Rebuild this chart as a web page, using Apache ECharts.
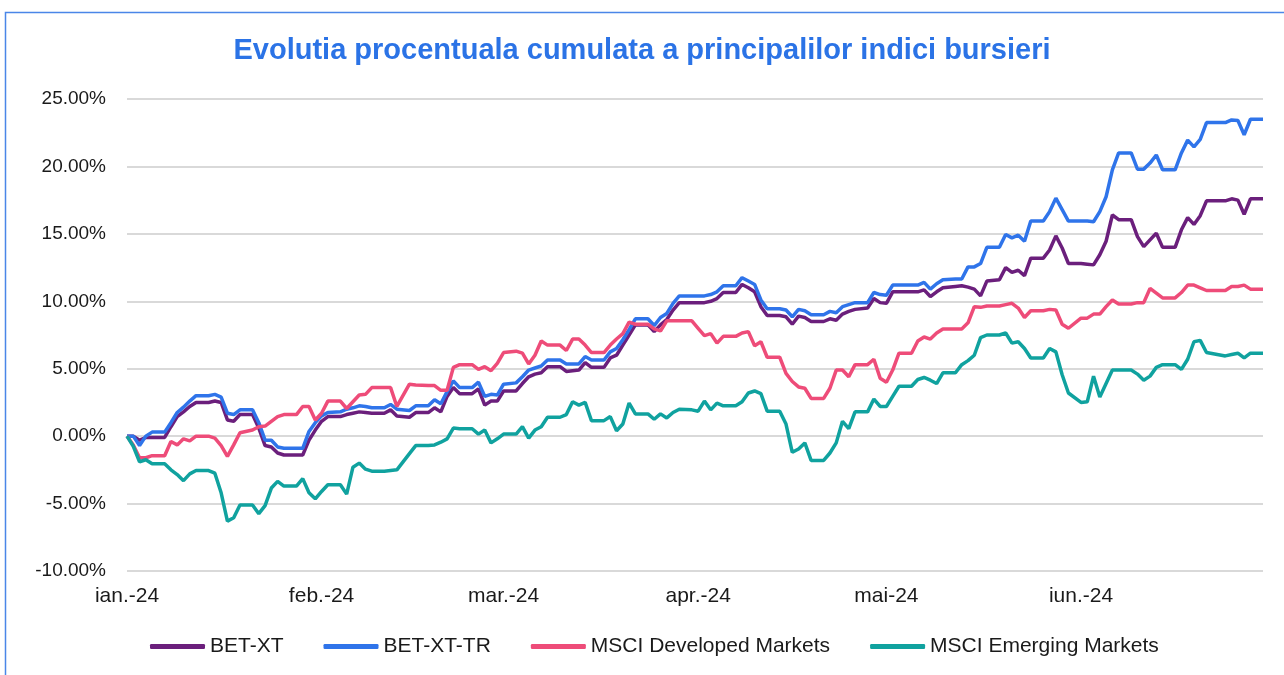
<!DOCTYPE html>
<html>
<head>
<meta charset="utf-8">
<title>Evolutia procentuala cumulata</title>
<script src="https://cdn.jsdelivr.net/npm/echarts@6.0.0/dist/echarts.min.js"></script>
<style>
  html, body { margin: 0; padding: 0; background: #fff; }
  #chart { width: 1284px; height: 675px; }
</style>
</head>
<body>
<div id="chart"></div>
<script>
// day offset from 1 ian. 2024 for each reading
const dayIdx = [
  0, 1, 2, 3, 4, 6, 7, 8, 9, 10, 11, 13, 14, 15, 16, 17, 18, 20, 21, 22, 23, 24, 25, 27, 28, 29, 30, 31,
  32, 34, 35, 36, 37, 38, 39, 41, 42, 43, 45, 46, 48, 49, 50, 51, 52, 53, 55, 56, 57, 58, 59, 60,
  62, 63, 64, 65, 66, 67, 69, 70, 71, 72, 73, 74, 76, 77, 78, 79, 80, 81, 83, 84, 85, 86, 87, 88, 90,
  91, 92, 93, 94, 95, 97, 98, 99, 100, 101, 102, 104, 105, 106, 107, 108, 109, 111, 112, 113, 114, 115, 116, 118, 119, 120, 121,
  122, 123, 125, 126, 127, 128, 129, 130, 132, 133, 134, 135, 136, 137, 139, 140, 141, 142, 143, 144, 146, 147, 148, 149, 150, 152,
  153, 154, 155, 156, 157, 158, 160, 161, 162, 163, 164, 165, 167, 168, 169, 170, 171, 172, 175, 176, 177, 178, 179, 181
];

const betXT = [
  0, 0, -0.3, -0.1, -0.1, -0.1, 0.7, 1.45, 1.8, 2.2, 2.5, 2.5, 2.6, 2.5, 1.2, 1.1, 1.6, 1.6, 0.6, -0.7, -0.8, -1.25, -1.4, -1.4, -1.4, -0.3, 0.45, 1.1,
  1.45, 1.45, 1.6, 1.7, 1.8, 1.75, 1.7, 1.7, 1.95, 1.5, 1.4, 1.75, 1.75, 2.1, 1.8, 2.95, 3.6, 3.15, 3.15, 3.5, 2.3, 2.6, 2.6, 3.35,
  3.35, 3.9, 4.4, 4.6, 4.7, 5.15, 5.15, 4.8, 4.85, 4.9, 5.45, 5.1, 5.1, 5.8, 6.0, 6.75, 7.5, 8.25, 8.25, 7.75, 8.25, 8.65, 9.35, 9.9, 9.9,
  9.9, 9.9, 10.0, 10.2, 10.65, 10.65, 11.25, 11.0, 10.7, 9.6, 8.95, 8.95, 8.85, 8.3, 8.9, 8.8, 8.5, 8.5, 8.7, 8.6, 9.05, 9.25, 9.4, 9.5, 10.2, 9.9, 9.85,
  10.7, 10.7, 10.7, 10.7, 10.85, 10.35, 10.7, 11.0, 11.1, 11.15, 11.05, 10.9, 10.4, 11.5, 11.6, 12.5, 12.15, 12.3, 11.9, 13.2, 13.2, 13.8, 14.85, 13.95, 12.8, 12.8,
  12.75, 12.7, 13.45, 14.45, 16.4, 16.05, 16.05, 14.8, 14.05, 14.55, 15.05, 14.0, 14.0, 15.3, 16.2, 15.7, 16.35, 17.45, 17.45, 17.6, 17.5, 16.45, 17.6, 17.6
];

const betXTTR = [
  0, 0, -0.7, 0, 0.3, 0.3, 1.0, 1.75, 2.15, 2.6, 3.0, 3.0, 3.1, 2.9, 1.7, 1.6, 1.95, 1.95, 1.0, -0.3, -0.3, -0.8, -0.9, -0.9, -0.9, 0.35, 1.0, 1.5,
  1.75, 1.8, 2.0, 2.1, 2.25, 2.2, 2.1, 2.1, 2.35, 2.0, 1.9, 2.25, 2.25, 2.7, 2.4, 3.3, 4.1, 3.6, 3.6, 4.0, 2.95, 3.1, 3.05, 3.85,
  3.95, 4.4, 4.9, 5.05, 5.2, 5.65, 5.65, 5.35, 5.35, 5.35, 5.9, 5.65, 5.65, 6.25, 6.5, 7.15, 7.9, 8.7, 8.7, 8.2, 8.8, 9.1, 9.85, 10.4, 10.4,
  10.4, 10.4, 10.5, 10.7, 11.15, 11.15, 11.75, 11.5, 11.25, 10.1, 9.45, 9.45, 9.35, 8.85, 9.4, 9.3, 9.0, 9.0, 9.25, 9.15, 9.6, 9.75, 9.9, 9.9, 10.65, 10.5, 10.45,
  11.2, 11.2, 11.2, 11.2, 11.4, 10.9, 11.3, 11.6, 11.65, 11.65, 12.55, 12.55, 12.8, 14.0, 14.0, 14.95, 14.7, 14.9, 14.45, 15.95, 15.95, 16.65, 17.65, 16.8, 15.95, 15.95,
  15.95, 15.9, 16.65, 17.75, 19.75, 21.0, 21.0, 19.8, 19.8, 20.25, 20.85, 19.75, 19.75, 21.0, 21.95, 21.45, 22.0, 23.25, 23.25, 23.45, 23.4, 22.35, 23.5, 23.5
];

const msciDev = [
  0, -0.65, -1.6, -1.6, -1.45, -1.45, -0.4, -0.65, -0.2, -0.35, 0, 0, -0.15, -0.7, -1.5, -0.65, 0.25, 0.45, 0.7, 0.75, 1.1, 1.45, 1.6, 1.6, 2.2, 2.2, 1.2, 1.7,
  2.6, 2.6, 2.05, 2.55, 3.05, 3.1, 3.6, 3.6, 3.6, 2.2, 3.85, 3.8, 3.75, 3.75, 3.4, 3.4, 5.1, 5.3, 5.3, 4.95, 5.15, 4.85, 5.4, 6.2,
  6.3, 6.15, 5.35, 6.0, 7.05, 6.75, 6.75, 6.35, 7.2, 7.2, 6.75, 6.2, 6.2, 6.75, 7.2, 7.6, 8.45, 8.3, 8.3, 7.95, 7.8, 8.55, 8.55, 8.55, 8.55,
  8.0, 7.45, 7.6, 6.9, 7.4, 7.4, 7.65, 7.75, 6.7, 7.0, 5.85, 5.85, 4.65, 4.05, 3.65, 3.55, 2.8, 2.8, 3.55, 4.9, 4.9, 4.4, 5.3, 5.3, 5.7, 4.3, 4.0,
  4.9, 6.15, 6.15, 7.05, 7.35, 7.2, 7.65, 7.95, 7.95, 7.95, 8.4, 9.6, 9.55, 9.65, 9.65, 9.75, 9.85, 9.5, 8.8, 9.3, 9.3, 9.4, 9.35, 8.3, 8.0, 8.75,
  8.75, 9.05, 9.05, 9.6, 10.1, 9.8, 9.8, 9.9, 9.9, 10.95, 10.6, 10.25, 10.25, 10.65, 11.2, 11.2, 11.0, 10.8, 10.8, 11.1, 11.1, 11.2, 10.9, 10.9
];

const msciEm = [
  0, -0.75, -1.9, -1.75, -2.05, -2.05, -2.5, -2.85, -3.3, -2.8, -2.55, -2.55, -2.75, -4.2, -6.3, -6.05, -5.1, -5.1, -5.75, -5.15, -3.85, -3.35, -3.7, -3.7, -3.15, -4.2, -4.65, -4.1,
  -3.6, -3.6, -4.3, -2.3, -2.0, -2.45, -2.6, -2.6, -2.55, -2.5, -1.3, -0.7, -0.7, -0.65, -0.45, -0.2, 0.6, 0.55, 0.55, 0.15, 0.45, -0.5, -0.2, 0.15,
  0.15, 0.7, -0.15, 0.45, 0.7, 1.4, 1.4, 1.6, 2.55, 2.3, 2.5, 1.15, 1.15, 1.45, 0.4, 0.9, 2.45, 1.65, 1.65, 1.25, 1.65, 1.35, 1.75, 2.0, 1.95,
  1.85, 2.6, 1.95, 2.45, 2.25, 2.25, 2.55, 3.2, 3.35, 3.15, 1.85, 1.85, 0.9, -1.2, -0.95, -0.5, -1.8, -1.8, -1.25, -0.5, 1.1, 0.55, 1.8, 1.8, 2.75, 2.2, 2.2,
  2.95, 3.7, 3.7, 4.2, 4.35, 4.15, 3.9, 4.7, 4.7, 5.3, 5.6, 6.0, 7.3, 7.5, 7.5, 7.65, 6.9, 7.0, 6.5, 5.8, 5.8, 6.5, 6.25, 4.55, 3.2, 2.5,
  2.55, 4.45, 2.9, 3.9, 4.9, 4.9, 4.9, 4.6, 4.15, 4.45, 5.1, 5.3, 5.3, 4.95, 5.7, 7.0, 7.1, 6.2, 5.95, 6.05, 6.15, 5.8, 6.15, 6.15
];

const seriesNames = ['BET-XT', 'BET-XT-TR', 'MSCI Developed Markets', 'MSCI Emerging Markets'];
const monthLabels = ['ian.-24', 'feb.-24', 'mar.-24', 'apr.-24', 'mai-24', 'iun.-24'];
const yTicks = [-10, -5, 0, 5, 10, 15, 20, 25];
const colors = ['#6B1F7C', '#2F74EA', '#EE4C79', '#10A29F'];

// every calendar day, 1 ian. -> 30 iun. 2024
const days = [];
for (let d = new Date(Date.UTC(2024, 0, 1)); d <= new Date(Date.UTC(2024, 5, 30)); d.setUTCDate(d.getUTCDate() + 1)) {
  days.push(d.toISOString().slice(0, 10));
}

const toPairs = (vals) => dayIdx.map((d, i) => [d, vals[i]]);

const chart = echarts.init(document.getElementById('chart'));

const font = 'Arial, "Liberation Sans", sans-serif';

chart.setOption({
  backgroundColor: '#fff',
  animation: false,
  color: colors,
  textStyle: { fontFamily: font },
  title: {
    text: 'Evolutia procentuala cumulata a principalilor indici bursieri',
    left: 'center',
    top: 31,
    textStyle: { color: '#2B73E6', fontSize: 29, fontWeight: 'bold', fontFamily: font }
  },
  graphic: [{
    type: 'rect',
    left: 3,
    top: 10,
    silent: true,
    shape: { width: 1300, height: 700 },
    style: { fill: null, stroke: '#4A86E8', lineWidth: 1.5 }
  }],
  legend: {
    data: seriesNames,
    left: 145,
    top: 631,
    icon: 'roundRect',
    itemWidth: 55,
    itemHeight: 5,
    itemGap: 40,
    textStyle: { fontSize: 21, color: '#1a1a1a', fontFamily: font }
  },
  grid: { left: 127, right: 21, top: 99, bottom: 104, containLabel: false },
  xAxis: {
    type: 'category',
    data: days,
    boundaryGap: false,
    axisLine: { show: false },
    axisTick: { show: false },
    splitLine: { show: false },
    axisLabel: {
      interval: (idx, val) => val.slice(8) === '01',
      formatter: (val) => monthLabels[parseInt(val.slice(5, 7), 10) - 1],
      margin: 15,
      fontSize: 21,
      color: '#1a1a1a',
      fontFamily: font
    }
  },
  yAxis: {
    type: 'value',
    min: yTicks[0],
    max: yTicks[yTicks.length - 1],
    interval: 5,
    axisLine: { show: false },
    axisTick: { show: false },
    splitLine: { lineStyle: { color: '#d9d9d9', width: 2 } },
    axisLabel: {
      formatter: (v) => v.toFixed(2) + '%',
      margin: 21,
      fontSize: 19,
      color: '#1a1a1a',
      fontFamily: font
    }
  },
  series: [betXT, betXTTR, msciDev, msciEm].map((vals, i) => ({
    name: seriesNames[i],
    type: 'line',
    data: toPairs(vals),
    showSymbol: false,
    symbol: 'none',
    lineStyle: { width: 3.5, color: colors[i] },
    itemStyle: { color: colors[i] }
  }))
});
</script>
</body>
</html>
